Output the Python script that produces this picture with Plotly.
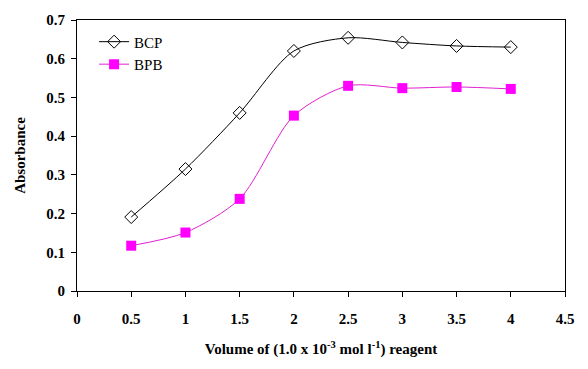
import plotly.graph_objects as go

volume = [0.5, 1.0, 1.5, 2.0, 2.5, 3.0, 3.5, 4.0]
bcp = [0.191, 0.315, 0.460, 0.620, 0.654, 0.642, 0.633, 0.630]
bpb = [0.117, 0.151, 0.238, 0.453, 0.530, 0.524, 0.527, 0.522]

FONT = "Liberation Serif"

fig = go.Figure()
fig.add_trace(go.Scatter(
    x=volume, y=bcp, name="BCP", mode="lines+markers",
    line=dict(color="black", width=1, shape="spline", smoothing=0.8),
    marker=dict(symbol="diamond-open", size=10, color="black", line=dict(width=1)),
))
fig.add_trace(go.Scatter(
    x=volume, y=bpb, name="BPB", mode="lines+markers",
    line=dict(color="#E020D0", width=1, shape="spline", smoothing=0.8),
    marker=dict(symbol="square", size=10, color="#FF00FF"),
))

axis_common = dict(
    showgrid=False, zeroline=False, showline=True, linecolor="black", linewidth=1,
    mirror=True, ticks="outside", ticklen=5, tickcolor="black", automargin=False,
    tickfont=dict(family=FONT, size=15, color="black", weight="bold"),
)
fig.update_layout(
    width=588, height=369,
    margin=dict(l=69, r=31, t=12, b=86),
    paper_bgcolor="white", plot_bgcolor="white",
    font=dict(family=FONT, color="black"),
    xaxis=dict(range=[0, 4.5], tickvals=[0, 0.5, 1, 1.5, 2, 2.5, 3, 3.5, 4, 4.5],
               ticktext=["0", "0.5", "1", "1.5", "2", "2.5", "3", "3.5", "4", "4.5"],
               ticklabelstandoff=9,
               title=dict(text="Volume of (1.0 x 10<sup>-3</sup> mol l<sup>-1</sup>) reagent",
                          font=dict(family=FONT, size=15, color="black", weight="bold"), standoff=17),
               **axis_common),
    yaxis=dict(range=[0, 0.7], tickvals=[0, 0.1, 0.2, 0.3, 0.4, 0.5, 0.6, 0.7],
               ticktext=["0", "0.1", "0.2", "0.3", "0.4", "0.5", "0.6", "0.7"],
               ticklabelstandoff=3,
               title=dict(text="Absorbance", font=dict(family=FONT, size=15, color="black", weight="bold"),
                          standoff=17),
               **axis_common),
    legend=dict(x=0.035, y=0.98, xanchor="left", yanchor="top", bgcolor="rgba(0,0,0,0)",
                font=dict(family=FONT, size=15, color="black"), tracegroupgap=2),
    showlegend=True,
)
fig.write_html("out.html")
